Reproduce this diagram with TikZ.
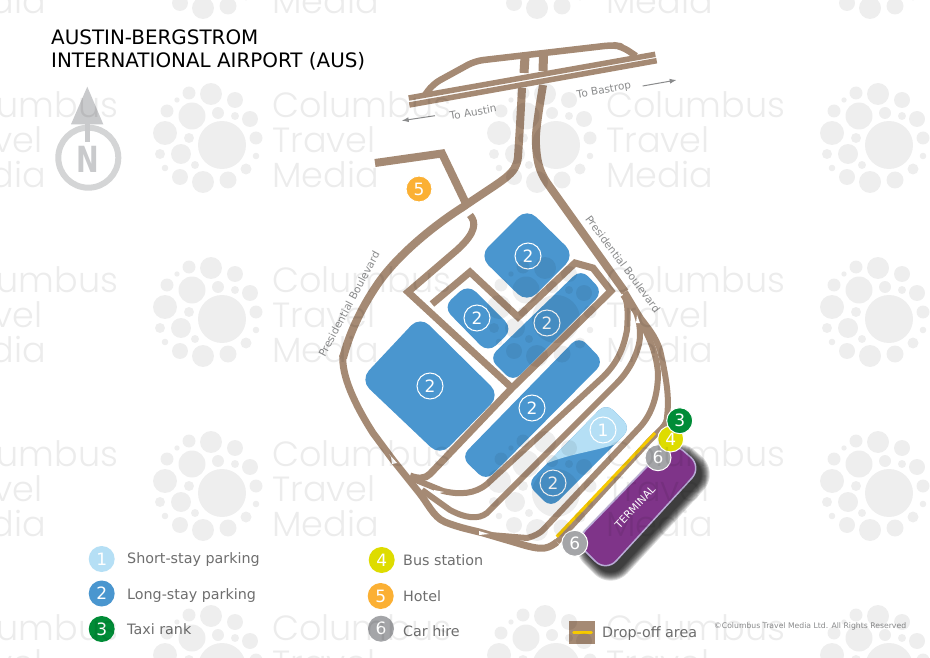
\documentclass[tikz,border=0pt]{standalone}
\usepackage{fontspec}
\usetikzlibrary{arrows.meta}
\setmainfont{DejaVu Sans}
\newfontfamily\wmfont[UprightFont=* Light]{Poppins}
\definecolor{roadc}{HTML}{A58A74}
\definecolor{parkb}{HTML}{4A96CF}
\definecolor{parkl}{HTML}{B5DFF5}
\definecolor{greenc}{HTML}{008C37}
\definecolor{yellowc}{HTML}{DEDC00}
\definecolor{orangec}{HTML}{FBB034}
\definecolor{greyc}{HTML}{A4A5A8}
\definecolor{purplec}{HTML}{7F3489}
\definecolor{lavc}{HTML}{B9ABD6}
\definecolor{dropc}{HTML}{F6C900}
\definecolor{labelc}{HTML}{8A8B8C}
\definecolor{legendc}{HTML}{6E6E6E}
\definecolor{northc}{HTML}{C9CACC}
\newcommand{\fsz}[1]{\fontsize{#1}{#1}\selectfont}
\tikzset{
  road/.style={draw=roadc,line width=6pt,line join=round},
  wideroad/.style={draw=roadc,line width=8pt,line join=miter},
  park/.style={fill=parkb,rounded corners=13pt},
  ring/.style={circle,draw=white,line width=1pt,minimum size=26pt,inner sep=0pt,text=white,font=\fsz{17}},
  badge/.style={circle,minimum size=26pt,inner sep=0pt,text=white,font=\fsz{17}},
  mapbadge/.style={badge,draw=white,line width=1pt},
  legendtext/.style={anchor=base west,text=legendc,font=\fsz{14.3},inner sep=0pt},
  roadlabel/.style={text=labelc,font=\fsz{10.5},inner sep=0pt},
  dirarrow/.style={draw=labelc,line width=1pt,-{Latex[length=7pt,width=5pt]}},
  tinyarrow/.style={fill=white,draw=none},
}
\begin{document}
\begin{tikzpicture}[x=1pt,y=-1pt]
\useasboundingbox (0,0) rectangle (930,658);
\fill[white] (0,0) rectangle (930,658);

% north sign
\draw[northc!80!white,line width=6pt] (88.3,157.7) circle[radius=30pt];
\fill[northc] (87.3,86.7) -- (103.3,124.3) -- (71,124.3) -- cycle;
\draw[northc,line width=4.7pt] (87.3,120) -- (87.3,141.7);
\node[inner sep=0pt,text=northc,font=\fsz{36}\bfseries,xscale=.75] (north) at (88,159) {N};

% title
\node[anchor=base west,inner sep=0pt,font=\fsz{19.9}] (title1) at (51,44.5) {AUSTIN-BERGSTROM};
\node[anchor=base west,inner sep=0pt,font=\fsz{19.9}] (title2) at (51,68) {INTERNATIONAL AIRPORT (AUS)};

% parking
\fill[park] (527,208) -- (575,255) -- (527,303) -- (479,256) -- cycle;
\fill[park] (360,380) -- (420,316) -- (500,395) -- (440,456) -- cycle;
\fill[park,rounded corners=11pt] (443,307) -- (468,284) -- (513,329) -- (488,353) -- cycle;
\fill[park,rounded corners=10pt] (489,358) -- (581,269) -- (603,292) -- (513,382) -- cycle;
\fill[park,rounded corners=10pt] (461,457) -- (579,336) -- (604,362) -- (486,481) -- cycle;
\fill[park,rounded corners=10pt] (527,484) -- (606,403) -- (631,428) -- (551,508) -- cycle;
\begin{scope}
\clip (510,480) -- (543,465) .. controls (570,453) and (595,452) .. (622,442) -- (640,400) -- (590,390) -- cycle;
\fill[fill=parkl,rounded corners=10pt] (527,484) -- (606,403) -- (631,428) -- (551,508) -- cycle;
\end{scope}
\node[ring] (p1) at (528,256) {2};
\node[ring] (p2) at (477,318) {2};
\node[ring] (p3) at (547,323) {2};
\node[ring] (p4) at (430,386) {2};
\node[ring] (p5) at (532,408) {2};
\node[ring] (p6) at (603,430) {1};
\node[ring] (p7) at (553,483) {2};

% highway
\draw[draw=roadc,line width=5.5pt] (408.7,98) -- (655.3,54.3);
\draw[draw=roadc,line width=5.5pt] (409.3,105) -- (656.7,60.7);
\draw[road,line width=6.5pt,rounded corners=8pt] (425,95) -- (433,84) -- (475,61) -- (613,45) -- (622,46.5) -- (636,56);
\draw[draw=roadc,line width=9pt] (525,57) -- (524,73);
\draw[draw=roadc,line width=9pt] (543.5,56) -- (543,71);

% approach roads and boulevard
\draw[wideroad] (522,88) -- (520,125) -- (518,157) .. controls (516,175) and (505,178) .. (463,207)
  .. controls (430,228) and (395,258) .. (377,285) .. controls (360,310) and (349,335) .. (343,358);
\draw[road,line width=7pt] (343,355) .. controls (341,375) and (355,405) .. (373,433) -- (393,460) -- (417,490)
  .. controls (428,503) and (433,517) .. (445,522) .. controls (460,528) and (472,530) .. (483,533) -- (517,543)
  .. controls (530,547) and (538,549) .. (545,548) .. controls (550,547) and (553,545) .. (557,542);
\draw[road] (557,542) -- (650,440) .. controls (660,430) and (667,425) .. (667,417)
  .. controls (669,400) and (668,385) .. (660,350) .. controls (655,335) and (648,328) .. (640,317) -- (623,295);
\draw[wideroad] (543,85) .. controls (538,115) and (535,135) .. (536,145) .. controls (537,165) and (541,175) .. (550,187)
  -- (625,292);
\draw[road] (625,292) -- (640,317);

% inner roads
\draw[road,line width=7pt,line join=miter] (470,215) .. controls (476,222) and (477,232) .. (457,250) -- (408,292) -- (512,388);
\draw[road,line width=7pt,line join=miter] (432,304) -- (470,272) -- (518,317) -- (575,263)
  -- (593,268) -- (611,291) -- (512,388) -- (430,474) .. controls (425,479) and (418,479) .. (410,476);
\draw[road] (411,478) -- (443,491) .. controls (460,495) and (475,494) .. (487,484) -- (603,377)
  .. controls (615,365) and (623,352) .. (627,330) .. controls (628,315) and (628,305) .. (625,297);
\draw[road] (422,490) -- (450,510) .. controls (465,518) and (478,520) .. (487,513) -- (617,383)
  .. controls (630,370) and (640,350) .. (640,335) .. controls (640,320) and (636,307) .. (625,296);
\draw[road] (490,535) -- (527,538) .. controls (535,536) and (540,533) .. (543,530) -- (640,427)
  .. controls (652,414) and (658,395) .. (658,373) .. controls (656,350) and (648,335) .. (638,317);

% hotel road
\draw[wideroad] (375,163) -- (442,153.5) -- (466,203.5);

% one-way marks
\fill[tinyarrow] (389,454) -- (397,463) -- (392,464) -- (391,457) -- cycle;
\fill[tinyarrow] (434,490) -- (444,492) -- (434,494) -- cycle;
\fill[tinyarrow] (479,531) -- (489,534) -- (479,535) -- cycle;
\fill[tinyarrow] (622,318) -- (624,327) -- (620,327) -- cycle;
\fill[tinyarrow] (637,315) -- (640,323) -- (636,323) -- cycle;

% drop-off line
\coordinate (dropA) at (556.7,536.7);
\coordinate (dropB) at (655,433);
\draw[dropc,line width=3pt] (dropA) -- (dropB);

% terminal
\foreach \w in {18,16,...,2}{
  \begin{scope}[transparency group,opacity=.14]
  \draw[black,fill=black,line width=\w pt,rounded corners=15pt,line join=round]
    (677,447) -- (707,473) -- (611,578) -- (580,547) -- cycle;
  \end{scope}
}
\draw[fill=purplec,draw=lavc,line width=1.5pt,rounded corners=15pt] (672,441) -- (702,467) -- (606,572) -- (575,541) -- cycle;
\node[rotate=47,text=white,font=\fsz{10.5},inner sep=0pt] (term) at (635,507) {TERMINAL};

% map badges
\node[mapbadge,fill=orangec] (b5) at (419,189) {5};
\node[mapbadge,fill=greyc] (b6a) at (574.7,543.3) {6};
\node[mapbadge,fill=greyc] (b6b) at (658,457.7) {6};
\node[mapbadge,fill=yellowc] (b4) at (670.7,439) {4};
\node[mapbadge,fill=greenc] (b3) at (679.7,420.7) {3};

% road labels
\node[roadlabel,rotate=10] (toaustin) at (473,112) {To Austin};
\node[roadlabel,rotate=10] (tobastrop) at (604,90.7) {To Bastrop};
\node[roadlabel,rotate=62] (presl) at (349,304) {Presidential Boulevard};
\node[roadlabel,rotate=-53.5] (presr) at (623,264) {Presidential Boulevard};
\coordinate (austinA) at (435,115.7);
\coordinate (austinB) at (401.7,120.7);
\coordinate (bastropA) at (642.7,86);
\coordinate (bastropB) at (676.7,80);
\draw[dirarrow] (austinA) -- (austinB);
\draw[dirarrow] (bastropA) -- (bastropB);

% legend
\node[badge,fill=parkl] (l1) at (101.7,559) {1};
\node[badge,fill=parkb] (l2) at (101.7,593.5) {2};
\node[badge,fill=greenc] (l3) at (101.7,629) {3};
\node[badge,fill=yellowc] (l4) at (381.7,560) {4};
\node[badge,fill=orangec] (l5) at (380.7,596) {5};
\node[badge,fill=greyc] (l6) at (381,628.7) {6};
\node[legendtext] (t1) at (127,563.5) {Short-stay parking};
\node[legendtext] (t2) at (127,599) {Long-stay parking};
\node[legendtext] (t3) at (127,634) {Taxi rank};
\node[legendtext] (t4) at (403,565.5) {Bus station};
\node[legendtext] (t5) at (403,601) {Hotel};
\node[legendtext] (t6) at (403,636) {Car hire};
\fill[roadc] (569,621.3) rectangle (595,644);
\draw[dropc,line width=2.5pt,line cap=round] (573.5,632.7) -- (591.5,632.7);
\node[legendtext] (t7) at (602,637) {Drop-off area};
\node[anchor=west,inner sep=0pt,text=labelc,font=\fsz{7.7}] (copy) at (714,626) {©Columbus Travel Media Ltd. All Rights Reserved};

% watermark
\begin{scope}
\clip (0,0) rectangle (930,658);
\foreach \cx in {-111,222,556,889}{
  \foreach \cy in {-29,145,319,493,667}{
    \begin{scope}[shift={(\cx,\cy)}]
      \foreach \a/\b/\r in {0/0/24,-11/-51/11,-33/-52/6.5,13/-45/8,-30/-29/13.5,-55/-34/6.5,-4/-32/6,13/-29/4,28/-26/8,-45/-45/2.7,-57/-12/12,-33/-7/5,34/-7/6.5,-62/9/5,-41/9/10,34/11/3.3,-27/20/4,-57/23/3.3,24/24/5.5,-42/32/8,-19/37/11,6/35/8.5}{
        \fill[black,opacity=.065] (\a,\b) circle[radius=\r pt];
      }
      \node[anchor=base west,inner sep=0pt,text=black,text opacity=.075,font=\wmfont\fsz{35}] at (50,-27) {Columbus};
      \node[anchor=base west,inner sep=0pt,text=black,text opacity=.075,font=\wmfont\fsz{35}] at (50,8) {Travel};
      \node[anchor=base west,inner sep=0pt,text=black,text opacity=.075,font=\wmfont\fsz{35}] at (50,43) {Media};
    \end{scope}
  }
}
\end{scope}
\end{tikzpicture}
\end{document}
